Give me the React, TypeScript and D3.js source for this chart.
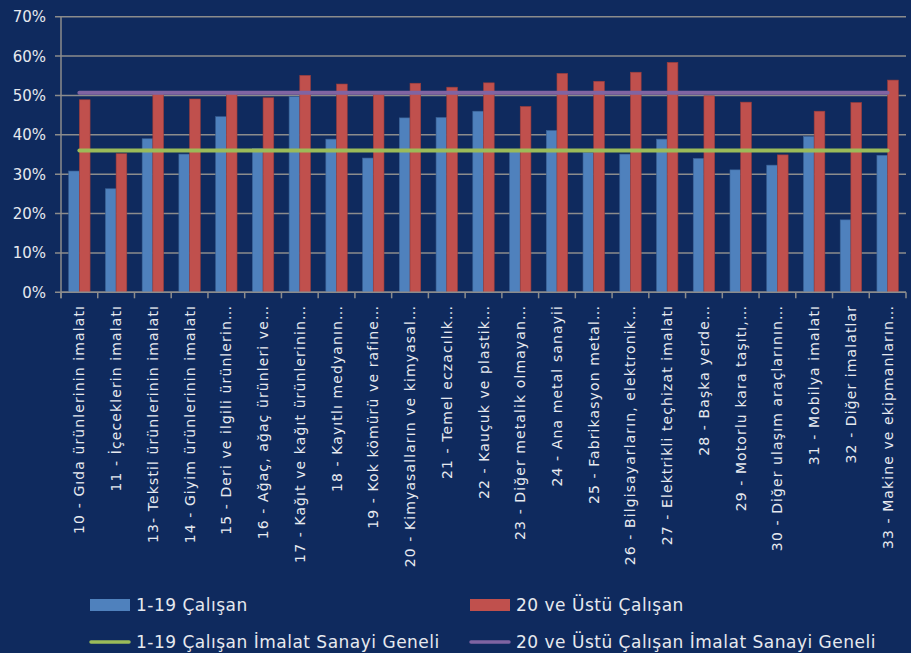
import { useEffect, useRef } from 'react';
import * as d3 from 'd3';

const categories = [
  '10 - Gıda ürünlerinin imalatı',
  '11 - İçeceklerin imalatı',
  '13- Tekstil ürünlerinin imalatı',
  '14 - Giyim ürünlerinin imalatı',
  '15 - Deri ve ilgili ürünlerin…',
  '16 - Ağaç, ağaç ürünleri ve…',
  '17 - Kağıt ve kağıt ürünlerinin…',
  '18 - Kayıtlı medyanın…',
  '19 - Kok kömürü ve rafine…',
  '20 - Kimyasalların ve kimyasal…',
  '21 - Temel eczacılık…',
  '22 - Kauçuk ve plastik…',
  '23 - Diğer metalik olmayan…',
  '24 - Ana metal sanayii',
  '25 - Fabrikasyon metal…',
  '26 - Bilgisayarların, elektronik…',
  '27 - Elektrikli teçhizat imalatı',
  '28 - Başka yerde…',
  '29 - Motorlu kara taşıtı,…',
  '30 - Diğer ulaşım araçlarının…',
  '31 - Mobilya imalatı',
  '32 - Diğer imalatlar',
  '33 - Makine ve ekipmanların…',
];

// 1-19 Çalışan
const small = [
  30.8, 26.3, 39.0, 35.1, 44.6, 36.5, 49.7, 38.9, 34.1, 44.3, 44.4, 46.0,
  35.8, 41.1, 35.5, 35.1, 38.9, 34.0, 31.1, 32.3, 39.6, 18.4, 34.8,
];

// 20 ve Üstü Çalışan
const large = [
  48.9, 35.2, 50.4, 49.1, 50.5, 49.4, 55.1, 52.9, 50.3, 53.1, 52.1, 53.2,
  47.2, 55.6, 53.6, 55.9, 58.4, 49.9, 48.3, 34.9, 46.0, 48.2, 53.9,
];

const smallOverall = 36.0;
const largeOverall = 50.7;

const yTicks = [0, 10, 20, 30, 40, 50, 60, 70];

const BG = '#0f2a5e';
const BLUE = '#4f81bd';
const RED = '#c0504d';
const GREEN = '#9bbb59';
const PURPLE = '#8064a2';
const GRID = '#8c8c8c';
const TEXT = '#e6e9ef';
const FONT = '"DejaVu Sans", Roboto, sans-serif';

export default function App() {
  const svgRef = useRef<SVGSVGElement>(null);

  useEffect(() => {
    document.body.style.margin = '0';
    if (!svgRef.current) return;

    const width = 911;
    const height = 653;
    const left = 61;
    const right = 906;
    const top = 16.7;
    const bottom = 292.3;

    d3.select(svgRef.current).selectAll('*').remove();
    const svg = d3.select(svgRef.current).attr('width', width).attr('height', height);

    svg.append('rect').attr('width', width).attr('height', height).attr('fill', BG);

    const x = d3.scaleBand<string>().domain(categories).range([left, right]);
    const y = d3.scaleLinear().domain([0, 70]).range([bottom, top]);
    const barW = 10.7;

    // Gridlines + y labels
    svg
      .selectAll('.grid')
      .data(yTicks)
      .enter()
      .append('line')
      .attr('x1', left - 6)
      .attr('x2', right)
      .attr('y1', (d) => y(d))
      .attr('y2', (d) => y(d))
      .attr('stroke', GRID)
      .attr('stroke-width', 1.5);

    svg
      .selectAll('.ylab')
      .data(yTicks)
      .enter()
      .append('text')
      .attr('x', 46)
      .attr('y', (d) => y(d) + 5.5)
      .attr('text-anchor', 'end')
      .attr('font-family', FONT)
      .attr('font-size', '15px')
      .attr('fill', TEXT)
      .text((d) => `${d}%`);

    // Axes lines
    svg
      .append('line')
      .attr('x1', left)
      .attr('x2', left)
      .attr('y1', top)
      .attr('y2', bottom + 6)
      .attr('stroke', GRID)
      .attr('stroke-width', 1.5);

    const bounds = categories.map((c) => x(c) as number).concat([right]);
    svg
      .selectAll('.xtick')
      .data(bounds)
      .enter()
      .append('line')
      .attr('x1', (d) => d)
      .attr('x2', (d) => d)
      .attr('y1', bottom)
      .attr('y2', bottom + 6)
      .attr('stroke', GRID)
      .attr('stroke-width', 1.5);

    // Bars
    const cx = (c: string) => (x(c) as number) + x.bandwidth() / 2;
    svg
      .selectAll('.bar-small')
      .data(categories)
      .enter()
      .append('rect')
      .attr('x', (c) => cx(c) - barW)
      .attr('y', (c, i) => y(small[i]))
      .attr('width', barW)
      .attr('height', (c, i) => bottom - y(small[i]))
      .attr('fill', BLUE)
      .attr('stroke', '#3b6396')
      .attr('stroke-width', 0.6);

    svg
      .selectAll('.bar-large')
      .data(categories)
      .enter()
      .append('rect')
      .attr('x', (c) => cx(c))
      .attr('y', (c, i) => y(large[i]))
      .attr('width', barW)
      .attr('height', (c, i) => bottom - y(large[i]))
      .attr('fill', RED)
      .attr('stroke', '#9a3d3b')
      .attr('stroke-width', 0.6);

    // x axis line over bars
    svg
      .append('line')
      .attr('x1', left)
      .attr('x2', right)
      .attr('y1', bottom)
      .attr('y2', bottom)
      .attr('stroke', GRID)
      .attr('stroke-width', 1.5);

    // Overall lines
    const firstC = cx(categories[0]);
    const lastC = cx(categories[categories.length - 1]);
    [
      { v: smallOverall, color: GREEN },
      { v: largeOverall, color: PURPLE },
    ].forEach((l) => {
      svg
        .append('line')
        .attr('x1', firstC)
        .attr('x2', lastC)
        .attr('y1', y(l.v))
        .attr('y2', y(l.v))
        .attr('stroke', l.color)
        .attr('stroke-width', 4)
        .attr('stroke-linecap', 'round');
    });

    // Category labels
    svg
      .selectAll('.xlab')
      .data(categories)
      .enter()
      .append('text')
      .attr('transform', (c) => `translate(${cx(c) + 5},305) rotate(-90)`)
      .attr('text-anchor', 'end')
      .attr('font-family', FONT)
      .attr('font-size', '14px')
      .attr('letter-spacing', '1.1px')
      .attr('fill', TEXT)
      .text((c) => c);

    // Legend
    const legend = [
      { label: '1-19 Çalışan', color: BLUE, kind: 'rect', x: 90, y: 605 },
      { label: '20 ve Üstü Çalışan', color: RED, kind: 'rect', x: 470, y: 605 },
      { label: '1-19 Çalışan İmalat Sanayi Geneli', color: GREEN, kind: 'line', x: 90, y: 642 },
      { label: '20 ve Üstü Çalışan İmalat Sanayi Geneli', color: PURPLE, kind: 'line', x: 470, y: 642 },
    ];
    legend.forEach((l) => {
      if (l.kind === 'rect') {
        svg
          .append('rect')
          .attr('x', l.x)
          .attr('y', l.y - 6)
          .attr('width', 40)
          .attr('height', 12)
          .attr('fill', l.color);
      } else {
        svg
          .append('line')
          .attr('x1', l.x + 1)
          .attr('x2', l.x + 39)
          .attr('y1', l.y)
          .attr('y2', l.y)
          .attr('stroke', l.color)
          .attr('stroke-width', 3.5)
          .attr('stroke-linecap', 'round');
      }
      svg
        .append('text')
        .attr('x', l.x + 46)
        .attr('y', l.y + 6)
        .attr('font-family', FONT)
        .attr('font-size', '17px')
        .attr('letter-spacing', '0.5px')
        .attr('fill', TEXT)
        .text(l.label);
    });
  }, []);

  return (
    <div>
      <svg ref={svgRef} style={{ display: 'block' }}></svg>
    </div>
  );
}
